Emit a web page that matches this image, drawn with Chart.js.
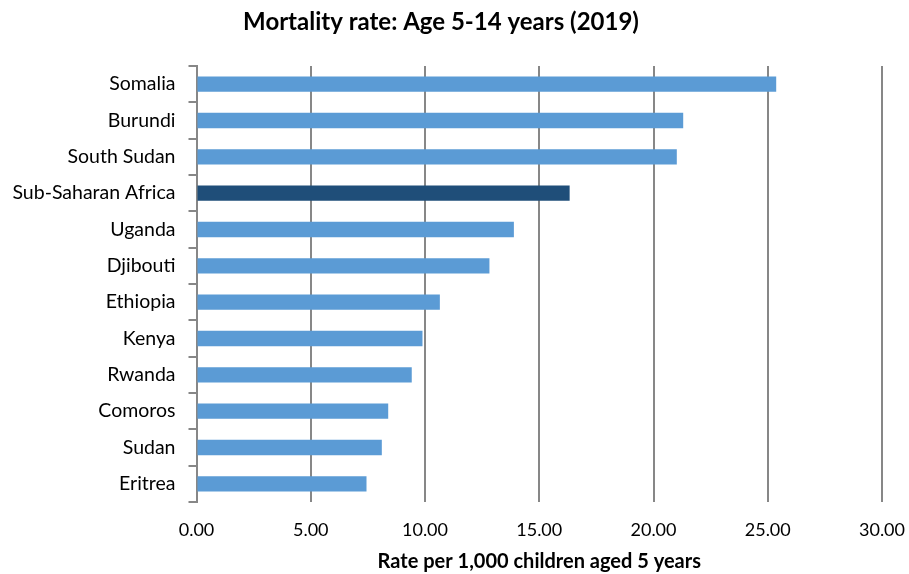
<!DOCTYPE html>
<html>
<head>
<meta charset="utf-8">
<script src="https://cdn.jsdelivr.net/npm/chart.js@4"></script>
<style>
  html, body { margin: 0; padding: 0; background: #fff; }
  #wrap { width: 909px; height: 574px; }
</style>
</head>
<body>
<div id="wrap"><canvas id="myChart" width="909" height="574"></canvas></div>
<script>
// mortality rate per 1,000, age 5-14, 2019
const countries = ['Somalia', 'Burundi', 'South Sudan', 'Sub-Saharan Africa', 'Uganda', 'Djibouti',
  'Ethiopia', 'Kenya', 'Rwanda', 'Comoros', 'Sudan', 'Eritrea'];
const rates = [25.37, 21.30, 21.02, 16.33, 13.89, 12.82, 10.65, 9.89, 9.42, 8.39, 8.11, 7.44];
const xTicks = [0, 5, 10, 15, 20, 25, 30];

const lightBlue = '#5b9bd5';
const darkBlue = '#1f4e79';
const gridGrey = '#878787';
const fontFamily = 'Lato, "Open Sans", sans-serif';

const barColors = countries.map((c) => c === 'Sub-Saharan Africa' ? darkBlue : lightBlue);

const ctx = document.getElementById('myChart');

new Chart(ctx, {
  type: 'bar',
  data: {
    labels: countries,
    datasets: [{
      label: 'Rate',
      data: rates,
      backgroundColor: barColors,
      borderWidth: 0,
      barPercentage: 0.42,
      categoryPercentage: 1
    }]
  },
  options: {
    indexAxis: 'y',
    responsive: false,
    animation: false,
    layout: { padding: { left: 0, right: 27, top: 0, bottom: 0 } },
    plugins: {
      legend: { display: false },
      tooltip: { enabled: false },
      title: {
        display: true,
        text: 'Mortality rate: Age 5-14 years (2019)',
        color: '#000',
        font: { family: fontFamily, size: 24, weight: 'bold' },
        padding: { top: 7.5, bottom: 29.7 }
      }
    },
    scales: {
      x: {
        min: 0,
        max: 30,
        afterBuildTicks: (scale) => {
          scale.ticks = xTicks.map((v) => ({ value: v }));
        },
        afterFit: (scale) => {
          scale.height = 72;
          // keep the plot edge fixed, the last label can hang over
          scale.paddingRight = 0;
        },
        border: { display: false },
        grid: {
          color: gridGrey,
          lineWidth: 2,
          drawTicks: false
        },
        ticks: {
          color: '#000',
          padding: 17,
          font: { family: fontFamily, size: 18 },
          callback: (v) => Number(v).toFixed(2)
        },
        title: {
          display: true,
          text: 'Rate per 1,000 children aged 5 years',
          color: '#000',
          font: { family: fontFamily, size: 20, weight: 'bold' },
          padding: { top: 0, bottom: 0 }
        }
      },
      y: {
        afterFit: (scale) => { scale.width = 196.5; },
        border: { display: true, color: gridGrey, width: 2 },
        grid: {
          offset: true,
          drawOnChartArea: false,
          drawTicks: true,
          tickLength: 8,
          color: gridGrey,
          lineWidth: 2
        },
        ticks: {
          color: '#000',
          padding: 13,
          font: { family: fontFamily, size: 19.5 }
        }
      }
    }
  }
});
</script>
</body>
</html>
